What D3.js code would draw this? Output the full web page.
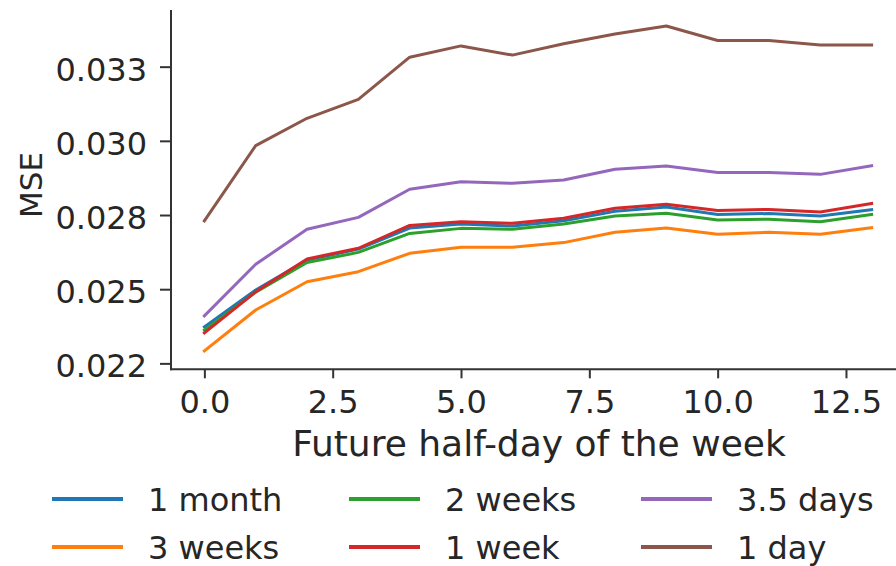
<!DOCTYPE html>
<html><head><meta charset="utf-8">
<script src="https://cdn.jsdelivr.net/npm/d3@7"></script>
<style>body{margin:0;background:#fff}svg{display:block}text{font-family:"DejaVu Sans",sans-serif;fill:#262626}</style>
</head><body><svg id="c" width="896" height="566"></svg>
<script>
const xs = [0,1,2,3,4,5,6,7,8,9,10,11,12,13];
const seriesNames = ["1 month","3 weeks","2 weeks","1 week","3.5 days","1 day"];
const seriesColors = ["#1f77b4","#ff7f0e","#2ca02c","#d62728","#9467bd","#8c564b"];
const oneMonth = [0.02373,0.02497,0.02598,0.02635,0.02706,0.02720,0.02713,0.02731,0.02763,0.02777,0.02752,0.02755,0.02747,0.02768];
const threeWeeks = [0.02292,0.02430,0.02525,0.02559,0.02621,0.02641,0.02641,0.02657,0.02692,0.02706,0.02685,0.02692,0.02685,0.02707];
const twoWeeks = [0.02362,0.02490,0.02590,0.02624,0.02688,0.02705,0.02702,0.02720,0.02747,0.02756,0.02733,0.02736,0.02727,0.02752];
const oneWeek = [0.02353,0.02491,0.02602,0.02638,0.02715,0.02727,0.02722,0.02739,0.02773,0.02786,0.02765,0.02769,0.02760,0.02789];
const threeHalfDays = [0.02410,0.02584,0.02702,0.02742,0.02837,0.02862,0.02857,0.02868,0.02904,0.02915,0.02893,0.02893,0.02887,0.02916];
const oneDay = [0.02730,0.02984,0.03076,0.03140,0.03282,0.03320,0.03289,0.03327,0.03360,0.03387,0.03338,0.03338,0.03323,0.03323];
const allValues = [oneMonth,threeWeeks,twoWeeks,oneWeek,threeHalfDays,oneDay];
const xTicks = [0,2.5,5,7.5,10,12.5];
const xTickLabels = ["0.0","2.5","5.0","7.5","10.0","12.5"];
const yTicks = [0.0225,0.025,0.0275,0.03,0.0325];
const yTickLabels = ["0.022","0.025","0.028","0.030","0.033"];

const svg = d3.select("#c");
const x = d3.scaleLinear().domain([-0.65,13.65]).range([171,905]);
const y = d3.scaleLinear().domain([0.0223,0.03441]).range([369.3,10]);
const axisColor = "#333";

// lines
const line = d3.line().x((d,i)=>x(xs[i])).y(d=>y(d));
allValues.forEach((vals,k)=>{
  svg.append("path").datum(vals).attr("d",line).attr("fill","none")
    .attr("stroke",seriesColors[k]).attr("stroke-width",3).attr("stroke-linejoin","round").attr("stroke-linecap","square");
});

// axes
const gx = svg.append("g").attr("transform","translate(0,369.3)")
  .call(d3.axisBottom(x).tickValues(xTicks).tickFormat((d,i)=>xTickLabels[i]).tickSize(9).tickPadding(12));
const gy = svg.append("g").attr("transform","translate(171,0)")
  .call(d3.axisLeft(y).tickValues(yTicks).tickFormat((d,i)=>yTickLabels[i]).tickSize(11).tickPadding(13));
[gx,gy].forEach(g=>{
  g.select(".domain").remove();
  g.selectAll(".tick line").attr("stroke",axisColor).attr("stroke-width",2);
  g.selectAll(".tick text").attr("font-family","DejaVu Sans").attr("font-size",32).attr("fill","#262626");
});
gy.selectAll(".tick text").attr("dy","0.42em");
svg.append("line").attr("x1",171).attr("x2",171).attr("y1",10).attr("y2",370.3).attr("stroke",axisColor).attr("stroke-width",2);
svg.append("line").attr("x1",170).attr("x2",896).attr("y1",369.3).attr("y2",369.3).attr("stroke",axisColor).attr("stroke-width",2);

// axis labels
svg.append("text").attr("x",539).attr("y",456).attr("text-anchor","middle").attr("font-size",36).text("Future half-day of the week");
svg.append("text").attr("transform","translate(42,185) rotate(-90)").attr("text-anchor","middle").attr("font-size",31).text("MSE");

// legend (column-major, 3 columns)
const colX = [52,349,641];
const rowY = [499,547];
seriesNames.forEach((name,k)=>{
  const c = Math.floor(k/2), r = k%2;
  const g = svg.append("g").attr("transform",`translate(${colX[c]},${rowY[r]})`);
  g.append("line").attr("x1",0).attr("x2",71).attr("y1",0).attr("y2",0).attr("stroke",seriesColors[k]).attr("stroke-width",4);
  g.append("text").attr("x",96).attr("y",12).attr("font-size",32).text(name);
});
</script></body></html>
